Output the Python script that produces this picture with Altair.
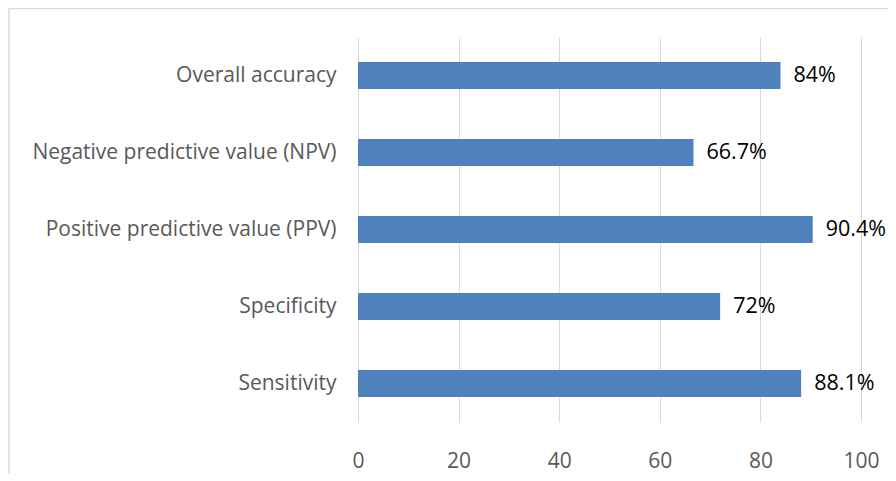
import altair as alt
import pandas as pd

categories = [
    "Overall accuracy",
    "Negative predictive value (NPV)",
    "Positive predictive value (PPV)",
    "Specificity",
    "Sensitivity",
]
values = [84, 66.7, 90.4, 72, 88.1]
value_labels = ["84%", "66.7%", "90.4%", "72%", "88.1%"]
x_ticks = [0, 20, 40, 60, 80, 100]

df = pd.DataFrame({"cat": categories, "val": values, "lab": value_labels})

FONT = "Open Sans"

y_enc = alt.Y(
    "cat:N",
    sort=categories,
    title=None,
    scale=alt.Scale(paddingInner=0.65, paddingOuter=0.325),
    axis=alt.Axis(
        ticks=False,
        domain=False,
        labelPadding=22,
        labelFontSize=21,
        labelFont=FONT,
        labelColor="#595959",
        labelLimit=500,
    ),
)

x_enc = alt.X(
    "val:Q",
    title=None,
    scale=alt.Scale(domain=[0, 100], nice=False),
    axis=alt.Axis(
        values=x_ticks,
        grid=True,
        gridColor="#d9d9d9",
        gridWidth=1,
        ticks=False,
        domain=False,
        labelFlush=False,
        labelPadding=28,
        labelFontSize=21,
        labelFont=FONT,
        labelColor="#595959",
    ),
)

bars = alt.Chart(df).mark_bar(color="#4F81BD").encode(x=x_enc, y=y_enc)

texts = alt.Chart(df).mark_text(
    align="left", baseline="middle", dx=13, fontSize=21.5, font=FONT, color="#000000"
).encode(x="val:Q", y=alt.Y("cat:N", sort=categories), text="lab:N")

border_df = pd.DataFrame({"k": [0]})
left_border = alt.Chart(border_df).mark_rule(color="#d9d9d9", strokeWidth=1.5).encode(
    x=alt.value(-349), y=alt.value(-29), y2=alt.value(500)
)
top_border = alt.Chart(border_df).mark_rule(color="#d9d9d9", strokeWidth=1.5).encode(
    x=alt.value(-349), x2=alt.value(700), y=alt.value(-28.5)
)

chart = (
    alt.layer(left_border, top_border, bars, texts)
    .properties(
        width=503,
        height=385,
        autosize=alt.AutoSizeParams(type="none"),
        padding={"left": 350, "top": 29, "right": 27, "bottom": 51},
    )
    .configure_view(strokeWidth=0)
)

chart.save("out.html", embed_options={"renderer": "svg", "actions": False})
